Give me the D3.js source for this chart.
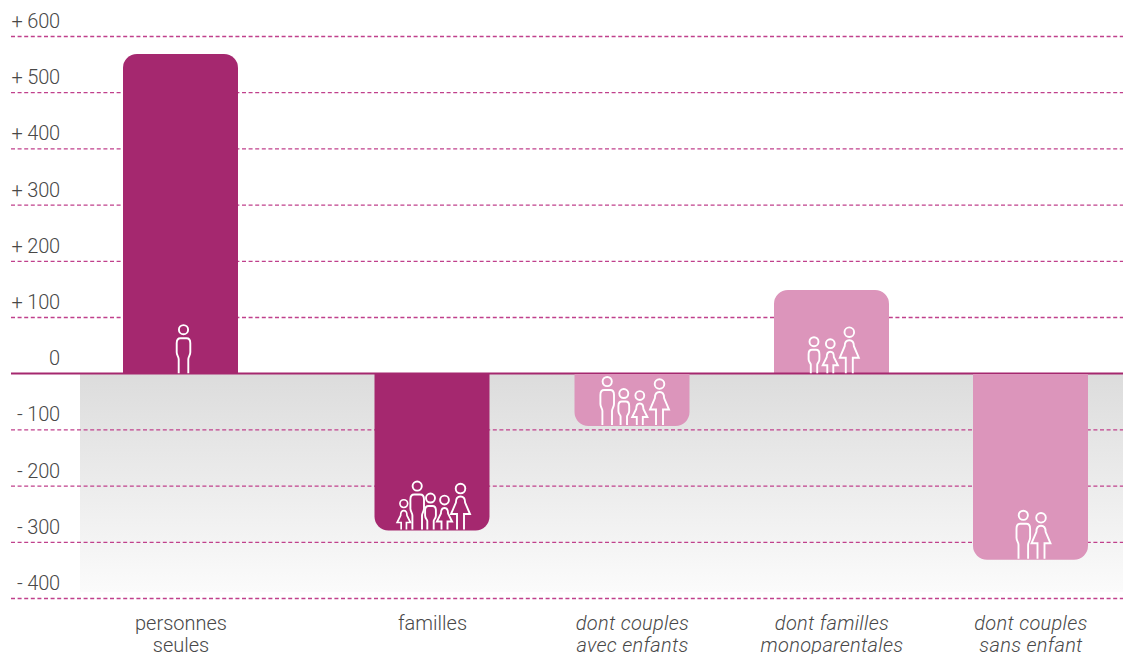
<!DOCTYPE html>
<html><head><meta charset="utf-8">
<script src="https://cdn.jsdelivr.net/npm/d3@7/dist/d3.min.js"></script>
<style>
html,body{margin:0;padding:0;background:#fff;overflow:hidden}
text{font-family:Roboto,sans-serif;font-weight:300;fill:#484848}
</style></head><body><svg id="c" width="1123" height="654"></svg>
<script>
const categories=["personnes seules","familles","dont couples avec enfants","dont familles monoparentales","dont couples sans enfant"];
const labelLines=[["personnes","seules"],["familles"],["dont couples","avec enfants"],["dont familles","monoparentales"],["dont couples","sans enfant"]];
const values=[568,-280,-94,148,-332];
const shades=["dark","dark","light","light","light"];
const italics=[false,false,true,true,true];
const tickValues=[600,500,400,300,200,100,0,-100,-200,-300,-400];
const people=[
 [["man",2.5]],
 [["girl",-28.7,.88],["man",-15.3],["boy",-2],["girl",12],["woman",28]],
 [["man",-25.3],["boy",-8.7],["girl",7.3],["woman",27]],
 [["boy",-18],["girl",-1.7],["woman",17.3]],
 [["man",-7.7],["woman",10]]
];
const colors={dark:"#a5286f",light:"#dc95bb"};
const glyphs={
 man:{head:[-43.5,4.6],d:"M-4.8,0V-14C-4.8,-16.5 -6.8,-18 -6.8,-21V-30Q-6.8,-35 -3,-35H3Q6.8,-35 6.8,-30V-21C6.8,-18 4.8,-16.5 4.8,-14V0"},
 woman:{head:[-41,4.8],d:"M-3.5,0V-15.5H-9.5L-4.6,-27Q-4.6,-33 0,-33Q4.6,-33 4.6,-27L9.5,-15.5H3.5V0"},
 boy:{head:[-31.5,4.5],d:"M-3.2,0V-8.5C-3.2,-10 -5.4,-11 -5.4,-14V-19Q-5.4,-23.5 -2,-23.5H2Q5.4,-23.5 5.4,-19V-14C5.4,-11 3.2,-10 3.2,-8.5V0"},
 girl:{head:[-29.5,4.4],d:"M-3,0V-8H-7.6L-3.6,-16Q-3.6,-21.5 0,-21.5Q3.6,-21.5 3.6,-16L7.6,-8H3V0"}
};

const svg=d3.select("#c");
const y=d3.scaleLinear().domain([600,-400]).range([36,598]);
const x=d3.scaleOrdinal().domain(categories).range([180.5,432,632,831.5,1030.5]);
const barW=115,rad=14;

const defs=svg.append("defs");
const grad=defs.append("linearGradient").attr("id","bg").attr("x1",0).attr("x2",0).attr("y1",0).attr("y2",1);
grad.append("stop").attr("offset",0).attr("stop-color","#dcdcdc");
grad.append("stop").attr("offset",1).attr("stop-color","#fbfbfb");
svg.append("rect").attr("x",80).attr("y",y(0)).attr("width",1043).attr("height",y(-400)-y(0)-6).attr("fill","url(#bg)");

const fmt=v=>v>0?"+ "+v:v<0?"- "+(-v):"0";
const axis=svg.append("g").attr("transform","translate(60,0)")
  .call(d3.axisLeft(y).tickValues(tickValues).tickFormat(fmt).tickSize(0));
axis.select(".domain").remove();
axis.selectAll(".tick line").attr("x1",-49).attr("x2",1063)
  .attr("stroke",d=>d===0?"#a5286f":"#c0408c").attr("stroke-width",d=>d===0?1.4:1.3)
  .attr("stroke-dasharray",d=>d===0?null:"4 2.6");
axis.selectAll(".tick text").attr("x",0).attr("y",-8.5).attr("dy",0)
  .attr("font-size",20).attr("font-family",null).style("letter-spacing","-0.2px");
axis.attr("font-family",null);

function barPath(cat,v){
  const l=x(cat)-barW/2,r=l+barW,y0=y(0),y1=y(v),s=v>0?1:-1,p=d3.path();
  p.moveTo(l,y0);p.lineTo(l,y1+s*rad);
  p.arcTo(l,y1,l+rad,y1,rad);p.lineTo(r-rad,y1);
  p.arcTo(r,y1,r,y1+s*rad,rad);p.lineTo(r,y0);p.closePath();
  return p.toString();
}
svg.append("g").selectAll("path").data(categories).join("path")
  .attr("d",(c,i)=>barPath(c,values[i])).attr("fill",(c,i)=>colors[shades[i]]);

// zero line above the bars
svg.append("line").attr("x1",11).attr("x2",1123).attr("y1",y(0)).attr("y2",y(0))
  .attr("stroke","#a5286f").attr("stroke-width",1.4);

// pictograms
categories.forEach((c,i)=>{
  const base=values[i]>0?y(0):y(values[i])-1;
  const g=svg.append("g").attr("fill","none").attr("stroke","#fff").attr("stroke-width",1.9);
  people[i].forEach(([t,dx,s])=>{
    const k=glyphs[t],f=g.append("g").attr("transform",`translate(${x(c)+dx+.5},${base}) scale(${s||1})`);
    f.append("circle").attr("cy",k.head[0]).attr("r",k.head[1]);
    f.append("path").attr("d",k.d);
  });
});

// category labels
const lab=svg.append("g").attr("text-anchor","middle").attr("font-size",20);
categories.forEach((c,i)=>{
  labelLines[i].forEach((t,j)=>{
    lab.append("text").attr("x",x(c)+.5).attr("y",629.5+j*22.5)
      .attr("font-style",italics[i]?"italic":"normal")
      .style("letter-spacing",italics[i]?"0.3px":"0").text(t);
  });
});
</script></body></html>
